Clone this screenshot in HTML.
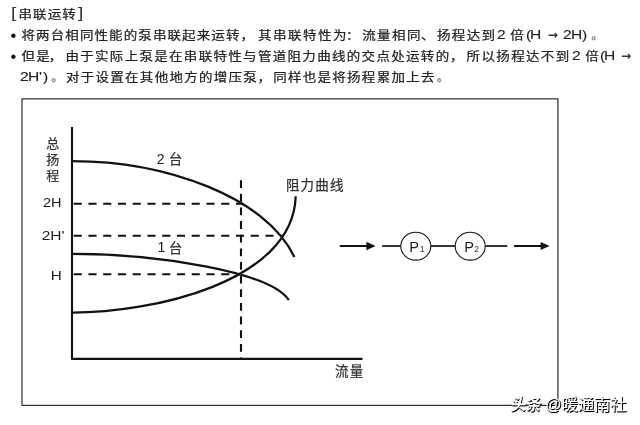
<!DOCTYPE html>
<html lang="zh-CN">
<head>
<meta charset="utf-8">
<title>串联运转</title>
<style>
html,body{margin:0;padding:0;background:#fff;}
body{width:640px;height:425px;position:relative;overflow:hidden;font-family:"Liberation Sans","Noto Sans CJK SC",sans-serif;color:#333;}
.t{position:absolute;white-space:nowrap;line-height:20px;height:20px;font-size:13.5px;}
.l{-webkit-text-stroke:0.15px #333;color:#222;font-size:13.8px;display:inline-block;transform:scale(1.13,0.94);transform-origin:0 50%;}
.c{color:#222;-webkit-text-stroke:0.25px #222;transform:scaleY(0.91);transform-origin:50% 55%;}
.b{font-size:16.5px;color:#111;}
.k{font-size:14.2px;display:inline-block;transform:scaleX(1.35);transform-origin:0 50%;}
.a{font-family:"DejaVu Sans",sans-serif;font-weight:bold;font-size:12px;}
.p{color:#999;-webkit-text-stroke:0.9px #999;font-size:11px;}
svg{position:absolute;left:0;top:0;}
#pg{position:absolute;left:0;top:0;width:640px;height:425px;filter:blur(0.45px);}
svg{fill:#333;}
svg text{font-family:"Liberation Sans","Noto Sans CJK SC",sans-serif;}
.wm{position:absolute;top:393.3px;height:22px;line-height:22px;font-size:16.2px;color:#fff;white-space:nowrap;text-shadow:1px 1px 0 #000,0.5px 0.5px 1px #222;}
.wm1{left:511.2px;top:392.6px;font-weight:bold;font-size:16.5px;transform:skewX(-8deg) scaleX(0.92);transform-origin:0 60%;}
.wm2{left:545.3px;}
</style>
</head>
<body>
<div id="pg">
<span class="t k" style="left:10.8px;top:3.0px">[</span>
<span class="t c" style="left:18.5px;top:5.0px;letter-spacing:1.10px">串联运转</span>
<span class="t k" style="left:77.8px;top:3.0px">]</span>
<span class="t b" style="left:10.6px;top:25.0px">•</span>
<span class="t c" style="left:21.5px;top:26.0px;letter-spacing:1.10px">将两台相同性能的泵串联起来运转，</span>
<span class="t c" style="left:258.1px;top:26.0px;letter-spacing:1.50px">其串联特性为</span>
<span class="t c" style="left:346.0px;top:26.0px">：</span>
<span class="t c" style="left:362.2px;top:26.0px;letter-spacing:1.40px">流量相同</span>
<span class="t c" style="left:421.0px;top:26.0px">、</span>
<span class="t c" style="left:436.9px;top:26.0px;letter-spacing:1.40px">扬程达到</span>
<span class="t l" style="left:497.2px;top:25.1px">2</span>
<span class="t c" style="left:510.2px;top:26.0px">倍</span>
<span class="t l" style="left:525.6px;top:25.1px">(</span>
<span class="t l" style="left:529.5px;top:25.1px">H</span>
<span class="t a" style="left:547.7px;top:25.2px">→</span>
<span class="t l" style="left:562.7px;top:25.1px">2</span>
<span class="t l" style="left:570.5px;top:25.1px">H</span>
<span class="t l" style="left:582.2px;top:25.1px">)</span>
<span class="t c p" style="left:591.4px;top:25.0px">。</span>
<span class="t b" style="left:10.6px;top:45.5px">•</span>
<span class="t c" style="left:21.6px;top:46.5px;letter-spacing:1.15px">但是</span>
<span class="t c" style="left:48.7px;top:46.5px">，</span>
<span class="t c" style="left:65.4px;top:46.5px;letter-spacing:1.31px">由于实际上泵是在串联特性与管道阻力曲线的交点处运转的</span>
<span class="t c" style="left:450.0px;top:46.5px">，</span>
<span class="t c" style="left:466.6px;top:46.5px;letter-spacing:1.35px">所以扬程达不到</span>
<span class="t l" style="left:571.9px;top:45.6px">2</span>
<span class="t c" style="left:585.3px;top:46.5px">倍</span>
<span class="t l" style="left:600.4px;top:45.6px">(</span>
<span class="t l" style="left:604.3px;top:45.6px">H</span>
<span class="t a" style="left:621.0px;top:45.7px">→</span>
<span class="t l" style="left:20.3px;top:67.1px">2</span>
<span class="t l" style="left:27.8px;top:67.1px">H</span>
<span class="t l" style="left:39.4px;top:67.1px">'</span>
<span class="t l" style="left:43.3px;top:67.1px">)</span>
<span class="t c p" style="left:51.6px;top:67.0px">。</span>
<span class="t c" style="left:65.9px;top:68.0px;letter-spacing:1.29px">对于设置在其他地方的增压泵</span>
<span class="t c" style="left:257.6px;top:68.0px">，</span>
<span class="t c" style="left:273.2px;top:68.0px;letter-spacing:1.28px">同样也是将扬程累加上去</span>
<span class="t c p" style="left:436.9px;top:67.0px">。</span>
<svg width="640" height="425" viewBox="0 0 640 425">
  <rect x="22" y="98.85" width="535.9" height="306.55" fill="none" stroke="#2b2b2b" stroke-width="1.2"/>
  <path d="M72 127.1 V358.9 H362.4" fill="none" stroke="#111" stroke-width="2.1" stroke-linejoin="round"/>
  <g fill="none" stroke="#111" stroke-width="2.25" stroke-linecap="butt">
    <path d="M72.0 161.1 C165.0 161.1 266.1 196.6 294.4 257.1"/>
    <path d="M72.0 253.9 C156.8 253.9 270.7 271.8 288.8 300.1"/>
    <path d="M72.0 312.7 C149.5 312.7 293.1 283.2 295.7 196.3"/>
  </g>
  <path d="M241 180.2 V358" stroke="#111" stroke-width="2.1" stroke-dasharray="7.8 5.84" fill="none"/>
  <g stroke="#111" stroke-width="2.1" stroke-dasharray="8.1 6.65" fill="none">
    <path d="M73.7 203.7 H243"/>
    <path d="M73.7 235.7 H283"/>
    <path d="M73.7 274.3 H241.5"/>
  </g>
  <g font-size="13" stroke="#333" stroke-width="0.25">
    <text x="46.3" y="147.6">总</text>
    <text x="46.3" y="164">扬</text>
    <text x="46.3" y="180.2">程</text>
  </g>
  <g font-size="13.2" fill="#1a1a1a">
    <text x="43" y="207" textLength="18.5" lengthAdjust="spacingAndGlyphs">2H</text>
    <text x="41.7" y="239.5" textLength="22.8" lengthAdjust="spacingAndGlyphs">2H'</text>
    <text x="50.8" y="280" textLength="11" lengthAdjust="spacingAndGlyphs">H</text>
    <text x="156.8" y="164" font-size="14">2</text>
    <text x="157.6" y="252.2" font-size="14">1</text>
  </g>
  <g font-size="13.2" stroke="#333" stroke-width="0.25">
    <text x="168.9" y="164.4">台</text>
    <text x="168.9" y="252.9">台</text>
  </g>
  <text x="285.9" y="190" font-size="13.5" letter-spacing="1.23" stroke="#333" stroke-width="0.25">阻力曲线</text>
  <text x="334.9" y="375.7" font-size="13.5" letter-spacing="1.3" stroke="#333" stroke-width="0.25">流量</text>
  <g stroke="#111" fill="none">
    <path d="M339.8 246 H368" stroke-width="2"/>
    <path d="M382.1 246 H400.9" stroke-width="1.7"/>
    <path d="M431 246 H455.3" stroke-width="1.7"/>
    <path d="M485.3 246 H507.3" stroke-width="1.7"/>
    <path d="M514.1 246 H542" stroke-width="2"/>
    <ellipse cx="415.8" cy="246.2" rx="15" ry="13.9" stroke-width="1.1" fill="#fff"/>
    <ellipse cx="470.2" cy="246.2" rx="15" ry="13.9" stroke-width="1.1" fill="#fff"/>
  </g>
  <path d="M375.6 246 L366.4 241.8 V250.2 Z" fill="#111"/>
  <path d="M549.6 246 L540.6 241.9 V250.1 Z" fill="#111"/>
  <text fill="#1a1a1a" x="409.3" y="251.8" font-size="14" textLength="9.8" lengthAdjust="spacingAndGlyphs">P</text><text x="420" y="252.4" font-size="8.5">1</text>
  <text fill="#1a1a1a" x="464.3" y="251.8" font-size="14" textLength="9.8" lengthAdjust="spacingAndGlyphs">P</text><text x="474.3" y="252.4" font-size="8.5">2</text>
</svg>

<div class="wm wm1">头条</div><div class="wm wm2">@暖通南社</div>
</div>
</body>
</html>
